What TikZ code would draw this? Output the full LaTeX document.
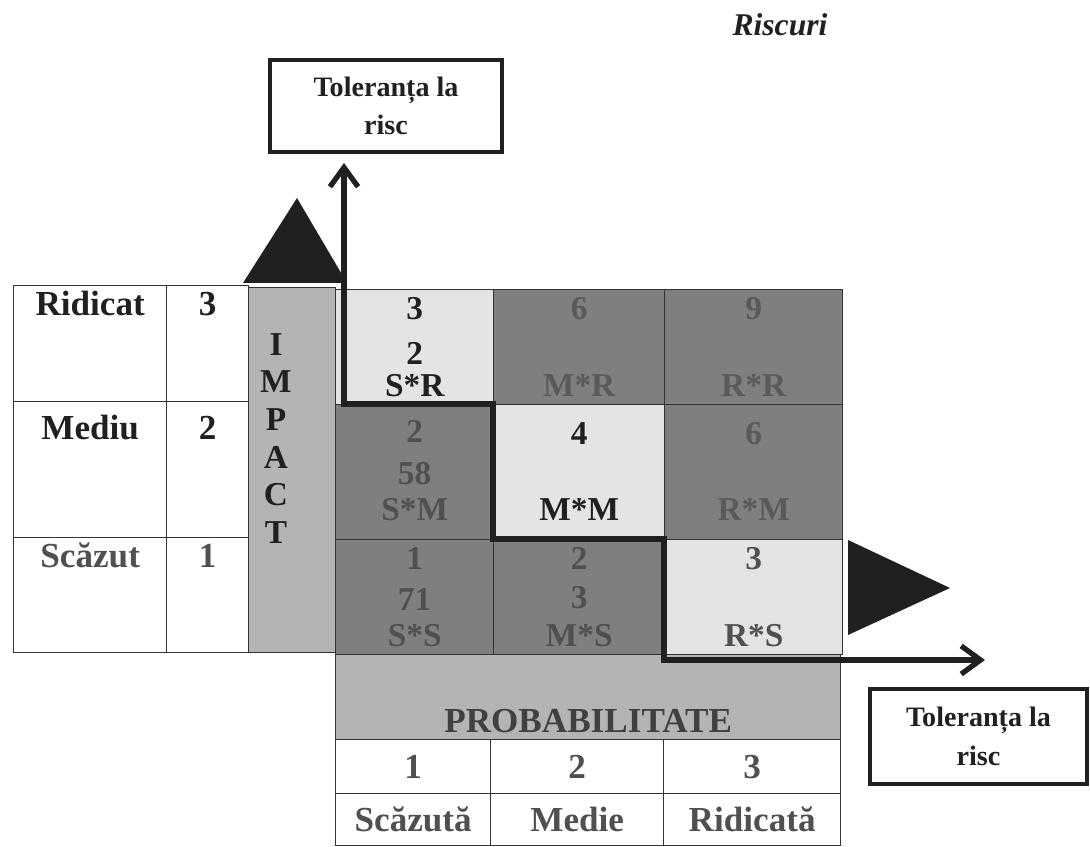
\documentclass[tikz,border=0pt]{standalone}
\usepackage{fontspec}
\setmainfont{Liberation Serif}
\usetikzlibrary{arrows.meta,positioning}
\definecolor{ink}{HTML}{202020}
\definecolor{greyink}{HTML}{505050}
\definecolor{paleink}{HTML}{5A5A5A}
\definecolor{darkcell}{HTML}{7F7F7F}
\definecolor{lightcell}{HTML}{E4E4E4}
\definecolor{band}{HTML}{B4B4B4}

\begin{document}
\begin{tikzpicture}[x=0.02cm, y=-0.02cm,
  every node/.style={font=\bfseries\fontsize{19}{22}\selectfont, text=ink, inner sep=2pt},
  cell/.style={draw=black!80, line width=0.8pt, anchor=north west, inner sep=0pt},
  bigtext/.style={font=\bfseries\fontsize{20}{22}\selectfont},
  toptext/.style={anchor=north, inner sep=3pt, text height=14pt, text depth=2pt},
  bottext/.style={anchor=south, inner sep=3pt, text height=14pt, text depth=2pt},
  midtext/.style={inner sep=3pt, text height=14pt, text depth=2pt},
  tolbox/.style={draw=ink, line width=2.4pt, align=center, font=\bfseries\fontsize{16}{22}\selectfont},
  stair/.style={draw=ink, line width=3pt, line join=miter, >={Straight Barb[length=11pt,width=16pt]}, <->}]
\useasboundingbox (0,0) rectangle (1090,847);

\node[font=\bfseries\itshape\fontsize{18}{20}\selectfont] (title) at (780,25) {Riscuri};

\node[tolbox, minimum width=4.64cm, minimum height=1.84cm] (tolTop) at (386,106) {Toleranța la\\risc};
\node[tolbox, minimum width=4.34cm, minimum height=1.9cm] (tolRight) at (978.5,736.5) {Toleranța la\\risc};

\node[cell, minimum width=3.06cm, minimum height=2.32cm] (lvl3) at (13,285) {};
\node[cell, minimum width=1.64cm, minimum height=2.32cm] (num3) at (166,285) {};
\node[cell, minimum width=3.06cm, minimum height=2.72cm] (lvl2) at (13,401) {};
\node[cell, minimum width=1.64cm, minimum height=2.72cm] (num2) at (166,401) {};
\node[cell, minimum width=3.06cm, minimum height=2.3cm] (lvl1) at (13,537) {};
\node[cell, minimum width=1.64cm, minimum height=2.3cm] (num1) at (166,537) {};
\node[toptext, bigtext] at (lvl3.north) {Ridicat};
\node[toptext, bigtext] at (num3.north) {3};
\node[toptext, bigtext, yshift=-5pt] at (lvl2.north) {Mediu};
\node[toptext, bigtext, yshift=-5pt] at (num2.north) {2};
\node[toptext, bigtext, text=greyink] at (lvl1.north) {Scăzut};
\node[toptext, bigtext, text=greyink] at (num1.north) {1};

\node[cell, fill=band, minimum width=1.74cm, minimum height=7.3cm] (impact) at (248,287) {};
\node[anchor=north, inner sep=0pt, align=center, font=\bfseries\fontsize{19}{21.4}\selectfont] (impactText) at (276,333) {I\\M\\P\\A\\C\\T};

\node[cell, fill=lightcell, minimum width=3.16cm, minimum height=2.3cm] (c13) at (335,289) {};
\node[cell, fill=darkcell, minimum width=3.42cm, minimum height=2.3cm] (c23) at (493,289) {};
\node[cell, fill=darkcell, minimum width=3.56cm, minimum height=2.3cm] (c33) at (664,289) {};
\node[cell, fill=darkcell, minimum width=3.16cm, minimum height=2.7cm] (c12) at (335,404) {};
\node[cell, fill=lightcell, minimum width=3.42cm, minimum height=2.7cm] (c22) at (493,404) {};
\node[cell, fill=darkcell, minimum width=3.56cm, minimum height=2.7cm] (c32) at (664,404) {};
\node[cell, fill=darkcell, minimum width=3.16cm, minimum height=2.3cm] (c11) at (335,539) {};
\node[cell, fill=darkcell, minimum width=3.42cm, minimum height=2.3cm] (c21) at (493,539) {};
\node[cell, fill=lightcell, minimum width=3.56cm, minimum height=2.3cm] (c31) at (664,539) {};

\node[toptext] at (c13.north) {3};
\node[bottext] (sr) at (c13.south) {S*R};
\node[midtext, above=-4.5pt of sr] {2};
\node[toptext, text=paleink] at (c23.north) {6};
\node[bottext, text=paleink] at (c23.south) {M*R};
\node[toptext, text=paleink] at (c33.north) {9};
\node[bottext, text=paleink] at (c33.south) {R*R};

\node[toptext, text=greyink, yshift=-5pt] at (c12.north) {2};
\node[bottext, text=greyink, yshift=6pt] (sm) at (c12.south) {S*M};
\node[midtext, text=greyink, above=-2pt of sm] {58};
\node[toptext, yshift=-6pt] at (c22.north) {4};
\node[bottext, yshift=6pt] at (c22.south) {M*M};
\node[toptext, text=paleink, yshift=-6pt] at (c32.north) {6};
\node[bottext, text=paleink, yshift=6pt] at (c32.south) {R*M};

\node[toptext, text=greyink] at (c11.north) {1};
\node[bottext, text=greyink] (ss) at (c11.south) {S*S};
\node[midtext, text=greyink, above=-2pt of ss] {71};
\node[toptext, text=greyink] at (c21.north) {2};
\node[bottext, text=greyink] (ms) at (c21.south) {M*S};
\node[midtext, text=greyink, above=-1pt of ms] {3};
\node[toptext, text=greyink] at (c31.north) {3};
\node[bottext, text=greyink] at (c31.south) {R*S};

\node[cell, fill=band, minimum width=10.1cm, minimum height=1.7cm] (prob) at (335,654) {};
\node[bigtext, text=greyink!80!black, above=2pt] at (prob.south) {PROBABILITATE};
\node[cell, bigtext, text=greyink, minimum width=3.1cm, minimum height=1.08cm] (p1) at (335,739) {1};
\node[cell, bigtext, text=greyink, minimum width=3.46cm, minimum height=1.08cm] (p2) at (490,739) {2};
\node[cell, bigtext, text=greyink, minimum width=3.54cm, minimum height=1.08cm] (p3) at (663,739) {3};
\node[cell, bigtext, text=greyink, minimum width=3.1cm, minimum height=1.04cm] (q1) at (335,793) {Scăzută};
\node[cell, bigtext, text=greyink, minimum width=3.46cm, minimum height=1.04cm] (q2) at (490,793) {Medie};
\node[cell, bigtext, text=greyink, minimum width=3.54cm, minimum height=1.04cm] (q3) at (663,793) {Ridicată};

\fill[ink] (243,283) -- (347,283) -- (297,198) -- cycle;
\fill[ink] (848,540) -- (848,635) -- (950,588) -- cycle;

\coordinate (upEnd) at (344,163);
\coordinate (rightEnd) at (985,660);
\draw[stair] (upEnd) |- (c22.north west) |- (c31.north west) |- (rightEnd);
\end{tikzpicture}
\end{document}
